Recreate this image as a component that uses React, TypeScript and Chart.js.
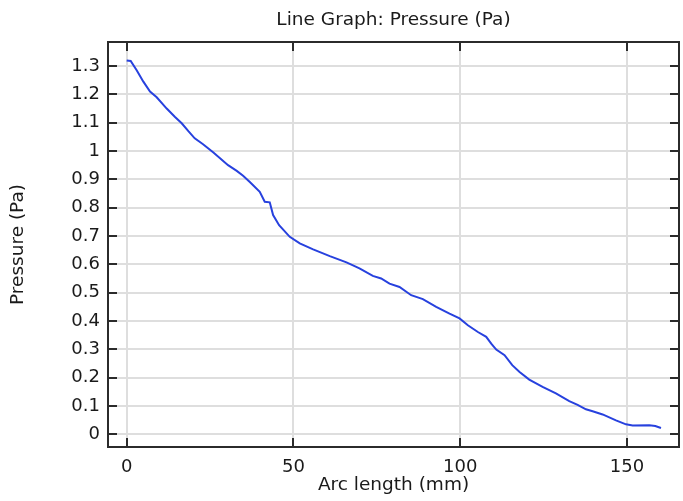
import React, { useEffect, useRef } from "react";
import { Chart, registerables } from "chart.js";

Chart.register(...registerables);

const chartTitle = "Line Graph: Pressure (Pa)";
const xAxisTitle = "Arc length (mm)";
const yAxisTitle = "Pressure (Pa)";

const arcLength = [
  0, 1.2, 3, 5, 7, 9, 12, 14.5, 16.5, 18.5, 20.4, 22.9, 26, 30.4, 33, 34.9, 37,
  39.9, 41.4, 42.9, 43.9, 45.7, 48.9, 51.9, 55.9, 60.9, 65.9, 69.8, 73.8, 76.3,
  78.8, 81.8, 85.3, 88.8, 92.8, 96.8, 99.8, 102.3, 105.3, 107.8, 109.3, 110.8,
  113.3, 115.6, 117.8, 120.7, 124.7, 128.7, 132.7, 135.2, 137.7, 139.7, 142.7,
  146.7, 149.7, 151.7, 156.7, 158.5, 160.2,
];
const pressure = [
  1.32, 1.318, 1.285, 1.245, 1.21, 1.19, 1.15, 1.12, 1.098, 1.07, 1.045, 1.024,
  0.995, 0.95, 0.93, 0.913, 0.89, 0.856, 0.821, 0.819, 0.774, 0.738, 0.697,
  0.674, 0.653, 0.629, 0.607, 0.586, 0.559, 0.55, 0.532, 0.52, 0.491, 0.477,
  0.45, 0.426, 0.409, 0.385, 0.361, 0.344, 0.32, 0.299, 0.279, 0.244, 0.22,
  0.193, 0.167, 0.144, 0.117, 0.104, 0.088, 0.081, 0.07, 0.049, 0.035, 0.031,
  0.032, 0.029, 0.022,
];
const xTicks = [0, 50, 100, 150];
const yTicks = [0, 0.1, 0.2, 0.3, 0.4, 0.5, 0.6, 0.7, 0.8, 0.9, 1, 1.1, 1.2, 1.3];

const FONT = "'DejaVu Sans', sans-serif";
const TEXT = "#1a1a1a";

const frameTicks = {
  id: "frameTicks",
  afterDraw(chart: any) {
    const { ctx, chartArea: a, scales } = chart;
    const len = 9;
    ctx.save();
    ctx.strokeStyle = "#2b2b2b";
    ctx.lineWidth = 2;
    ctx.beginPath();
    for (const t of scales.x.ticks) {
      const px = Math.round(scales.x.getPixelForValue(t.value));
      ctx.moveTo(px, a.bottom);
      ctx.lineTo(px, a.bottom - len);
      ctx.moveTo(px, a.top);
      ctx.lineTo(px, a.top + len);
    }
    for (const t of scales.y.ticks) {
      const py = Math.round(scales.y.getPixelForValue(t.value));
      ctx.moveTo(a.left, py);
      ctx.lineTo(a.left + len, py);
      ctx.moveTo(a.right, py);
      ctx.lineTo(a.right - len, py);
    }
    ctx.stroke();
    ctx.strokeRect(a.left, a.top, a.right - a.left, a.bottom - a.top);
    ctx.restore();
  },
};

export default function App() {
  const ref = useRef<HTMLCanvasElement>(null);
  useEffect(() => {
    if (!ref.current) return;
    const chart = new Chart(ref.current, {
      type: "line",
      data: {
        datasets: [
          {
            data: arcLength.map((x, i) => ({ x, y: pressure[i] })),
            borderColor: "#2741de",
            borderWidth: 2,
            pointRadius: 0,
            tension: 0,
            fill: false,
          },
        ],
      },
      options: {
        responsive: false,
        animation: false,
        layout: { padding: { left: 0, right: 4, top: 0, bottom: 0 } },
        plugins: {
          legend: { display: false },
          tooltip: { enabled: false },
          title: {
            display: true,
            fullSize: false,
            text: chartTitle,
            color: TEXT,
            font: { family: FONT, size: 18.5, weight: "normal", lineHeight: 1.2 },
            padding: { top: 9, bottom: 10.8 },
          },
        },
        scales: {
          x: {
            type: "linear",
            min: -5.6,
            max: 165.6,
            afterBuildTicks: (s: any) => {
              s.ticks = xTicks.map((v) => ({ value: v }));
            },
            afterFit: (s: any) => {
              s.height = 54;
            },
            ticks: {
              color: TEXT,
              font: { family: FONT, size: 18 },
              padding: 10,
              maxRotation: 0,
              callback: (v: any) => String(v),
            },
            grid: { color: "#dedede", lineWidth: 2, drawTicks: false },
            border: { display: false },
            title: {
              display: true,
              text: xAxisTitle,
              color: TEXT,
              font: { family: FONT, size: 18.5 },
              padding: { top: 0, bottom: 5 },
            },
          },
          y: {
            type: "linear",
            min: -0.045,
            max: 1.385,
            afterBuildTicks: (s: any) => {
              s.ticks = yTicks.map((v) => ({ value: v }));
            },
            afterFit: (s: any) => {
              s.width = 108;
            },
            ticks: {
              color: TEXT,
              font: { family: FONT, size: 18 },
              padding: 8,
              callback: (v: any) => String(Number(Number(v).toFixed(1))),
            },
            grid: { color: "#dedede", lineWidth: 2, drawTicks: false },
            border: { display: false },
            title: {
              display: true,
              text: yAxisTitle,
              color: TEXT,
              font: { family: FONT, size: 18.5 },
              padding: { top: 7, bottom: 0 },
            },
          },
        },
      },
      plugins: [frameTicks],
    });
    return () => chart.destroy();
  }, []);
  return (
    <div style={{ position: "fixed", left: 0, top: 0, width: 683, height: 501, background: "#fff" }}>
      <canvas ref={ref} width={683} height={501} style={{ width: 683, height: 501 }} />
    </div>
  );
}
